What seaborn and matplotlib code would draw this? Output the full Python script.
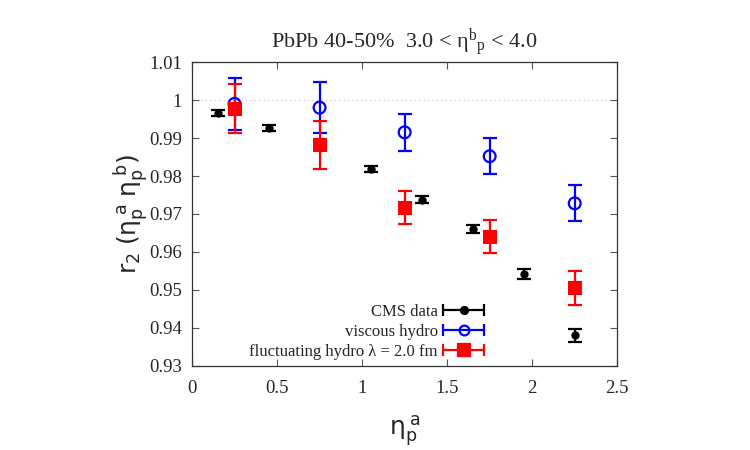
import numpy as np
import pandas as pd
import matplotlib
matplotlib.use("Agg")
import matplotlib.pyplot as plt
import seaborn as sns
from matplotlib.lines import Line2D
from matplotlib.legend_handler import HandlerBase

# CMS data
cms_x = [0.15, 0.45, 1.05, 1.35, 1.65, 1.95, 2.25]
cms_y = [0.9966, 0.9927, 0.9818, 0.9738, 0.9660, 0.9542, 0.9380]
cms_err = [0.0009, 0.0008, 0.0008, 0.0009, 0.0010, 0.0012, 0.0018]

# viscous hydro
visc_x = [0.25, 0.75, 1.25, 1.75, 2.25]
visc_y = [0.9990, 0.9980, 0.9915, 0.9852, 0.9728]
visc_err = [0.0068, 0.0068, 0.0048, 0.0048, 0.0047]

# fluctuating hydro
fluc_x = [0.25, 0.75, 1.25, 1.75, 2.25]
fluc_y = [0.9977, 0.9882, 0.9717, 0.9640, 0.9505]
fluc_err = [0.0065, 0.0063, 0.0044, 0.0044, 0.0044]

labels = ["CMS data", "viscous hydro", "fluctuating hydro λ = 2.0 fm"]

sns.set_theme(style="ticks")
plt.rcParams["font.family"] = ["Liberation Serif", "DejaVu Serif"]
plt.rcParams["mathtext.fontset"] = "dejavusans"

fig = plt.figure(figsize=(7.5, 4.5), dpi=100)
ax = fig.add_axes([0.256, 0.187, 0.567, 0.675])

ax.axhline(1.0, color="#bbbbbb", lw=0.8, ls=(0, (1, 3)), zorder=0)

series = [
    (cms_x, cms_y, cms_err, "black", "o", 6, "black"),
    (visc_x, visc_y, visc_err, "blue", "o", 8.5, "none"),
    (fluc_x, fluc_y, fluc_err, "red", "s", 10, "red"),
]
for x, y, e, c, m, ms, fc in series:
    ax.errorbar(x, y, yerr=e, fmt="none", ecolor=c, elinewidth=1.6,
                capsize=5, capthick=1.6, zorder=2)
    df = pd.DataFrame({"x": x, "y": y})
    sns.scatterplot(data=df, x="x", y="y", ax=ax, marker=m, s=ms ** 2,
                    color=c, facecolors=fc, edgecolor=c,
                    linewidth=1.6 if fc == "none" else 0, zorder=3, legend=False)


class CapHandler(HandlerBase):
    def __init__(self, color, marker, ms, fc):
        super().__init__()
        self.c, self.m, self.ms, self.fc = color, marker, ms, fc

    def create_artists(self, legend, orig, xd, yd, w, h, fs, trans):
        y0 = yd + h / 2
        x0, x1 = xd, xd + w
        line = Line2D([x0, x1], [y0, y0], color=self.c, lw=1.6, transform=trans)
        caps = Line2D([x0, x1], [y0, y0], ls="none", marker="|", ms=9,
                      mew=1.6, color=self.c, transform=trans)
        mk = Line2D([(x0 + x1) / 2], [y0], ls="none", marker=self.m, ms=self.ms,
                    mfc=self.fc, mec=self.c, mew=1.6, color=self.c, transform=trans)
        return [line, caps, mk]


handles = [Line2D([], []), Line2D([], []), Line2D([], [])]
hmap = {
    handles[0]: CapHandler("black", "o", 5, "black"),
    handles[1]: CapHandler("blue", "o", 7, "none"),
    handles[2]: CapHandler("red", "s", 9, "red"),
}
ax.legend(handles, labels, handler_map=hmap, loc="lower right",
          bbox_to_anchor=(0.715, -0.02), frameon=False, markerfirst=False,
          fontsize=12, handlelength=2.5, handletextpad=0.3, labelspacing=0.25,
          borderpad=0.2)

ax.set_xlim(0, 2.5)
ax.set_ylim(0.93, 1.01)
ax.set_xticks([0, 0.5, 1, 1.5, 2, 2.5])
ax.set_xticklabels(["0", "0.5", "1", "1.5", "2", "2.5"])
ax.set_yticks(np.arange(0.93, 1.0101, 0.01))
ax.set_yticklabels(["0.93", "0.94", "0.95", "0.96", "0.97", "0.98", "0.99", "1", "1.01"])
ax.tick_params(direction="in", top=True, right=True, labelsize=13.5,
               length=5, width=0.8, color="#555555")
ax.tick_params(axis="x", pad=10)
ax.tick_params(axis="y", pad=7)
for s in ax.spines.values():
    s.set_color("#333333")
    s.set_linewidth(0.9)

ax.set_title(r"PbPb 40-50%  3.0 < $\mathregular{\eta^{b}{}_{p}}$ < 4.0",
             fontsize=16, pad=10)
ax.set_xlabel(r"$\mathregular{\eta_p^{\;a}}$", fontsize=18, labelpad=12,
              fontfamily="DejaVu Sans")
ax.set_ylabel(r"$\mathregular{r_2\;(\eta_p^{\;a}\;\eta_p^{\;b})}$", fontsize=18,
              labelpad=-1, fontfamily="DejaVu Sans")

fig.savefig("out.png", dpi=100)
